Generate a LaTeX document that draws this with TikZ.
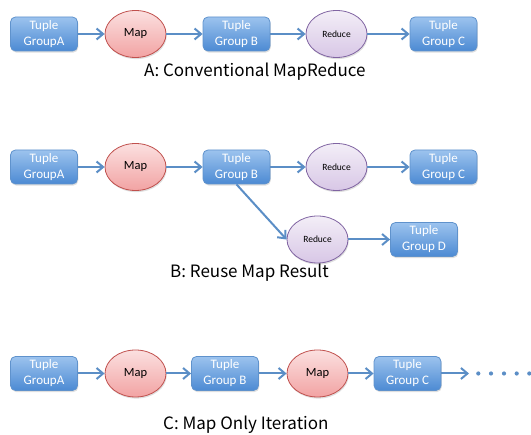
\documentclass[tikz,border=0pt]{standalone}
\usepackage{fontspec}
\setmainfont{Carlito}
\newfontfamily\capfont{Noto Sans CJK JP}
\usetikzlibrary{arrows.meta,shadows,shapes.geometric}
\definecolor{flow}{HTML}{5B8EC6}
\definecolor{boxtop}{HTML}{9CC3EE}
\definecolor{boxbot}{HTML}{4C8AD3}
\definecolor{boxline}{HTML}{5F92CC}
\definecolor{maptop}{HTML}{FBE0E0}
\definecolor{mapbot}{HTML}{F2A3A3}
\definecolor{mapline}{HTML}{C0504D}
\definecolor{redtop}{HTML}{F3EEF7}
\definecolor{redbot}{HTML}{D8C7E6}
\definecolor{redline}{HTML}{8064A2}
\tikzset{
  tuplebox/.style={rectangle, rounded corners=5pt, minimum width=67pt, minimum height=34pt,
    draw=boxline, line width=0.8pt, top color=boxtop, bottom color=boxbot,
    text=white, font=\fontsize{13}{16}\selectfont, align=center, inner sep=0pt,
    drop shadow={shadow xshift=0.8pt, shadow yshift=-1.6pt, opacity=0.25}},
  mapnode/.style={ellipse, minimum width=61pt, minimum height=47pt, inner sep=0pt,
    draw=mapline, line width=0.8pt, top color=maptop, bottom color=mapbot,
    font=\fontsize{12.5}{14}\selectfont,
    drop shadow={shadow xshift=0.8pt, shadow yshift=-1.6pt, opacity=0.25}},
  rednode/.style={ellipse, minimum width=61pt, minimum height=47pt, inner sep=0pt,
    draw=redline, line width=0.8pt, top color=redtop, bottom color=redbot,
    font=\fontsize{9.5}{11}\selectfont,
    drop shadow={shadow xshift=0.8pt, shadow yshift=-1.6pt, opacity=0.25}},
  flowarrow/.style={draw=flow, line width=2pt, -{Straight Barb[length=6.5pt,width=11pt,line width=2pt]}},
  caption/.style={font=\capfont\fontsize{17}{20}\selectfont, text=black,
    anchor=base west, inner sep=0pt},
  dotmark/.style={circle, fill=flow, minimum size=4.2pt, inner sep=0pt}
}
\begin{document}
\begin{tikzpicture}[x=1pt,y=-1pt]
\useasboundingbox (0,0) rectangle (531,435);

% A: conventional MapReduce
\node[tuplebox] (a1) at (44,34) {Tuple\\GroupA};
\node[mapnode] (am) at (135.5,34) {Map};
\node[tuplebox] (a2) at (236.5,34) {Tuple\\Group B};
\node[rednode] (ar) at (336.5,34) {Reduce};
\node[tuplebox] (a3) at (443.5,34) {Tuple\\Group C};
\draw[flowarrow] (a1) -- (am);
\draw[flowarrow] (am) -- (a2);
\draw[flowarrow] (a2) -- (ar);
\draw[flowarrow] (ar) -- (a3);
\node[caption] (acap) at (144,77) {A: Conventional MapReduce};

% B: reuse of the map result
\node[tuplebox] (b1) at (44,167) {Tuple\\GroupA};
\node[mapnode] (bm) at (135.5,167) {Map};
\node[tuplebox] (b2) at (236.5,167) {Tuple\\Group B};
\node[rednode] (br) at (336.5,167) {Reduce};
\node[tuplebox] (b3) at (443.5,167) {Tuple\\Group C};
\node[rednode] (br2) at (317.5,239.5) {Reduce};
\node[tuplebox] (b4) at (424,239.5) {Tuple\\Group D};
\draw[flowarrow] (b1) -- (bm);
\draw[flowarrow] (bm) -- (b2);
\draw[flowarrow] (b2) -- (br);
\draw[flowarrow] (br) -- (b3);
\draw[flowarrow] (b2.south) -- (br2.west);
\draw[flowarrow] (br2) -- (b4);
\node[caption] (bcap) at (170,278) {B: Reuse Map Result};

% C: iterating map only
\node[tuplebox] (c1) at (44,373.5) {Tuple\\GroupA};
\node[mapnode] (cm) at (135.5,373.5) {Map};
\node[tuplebox] (c2) at (225,373.5) {Tuple\\Group B};
\node[mapnode] (cm2) at (317.5,373.5) {Map};
\node[tuplebox] (c3) at (407.5,373.5) {Tuple\\Group C};
\coordinate (cend) at (469,373.5);
\draw[flowarrow] (c1) -- (cm);
\draw[flowarrow] (cm) -- (c2);
\draw[flowarrow] (c2) -- (cm2);
\draw[flowarrow] (cm2) -- (c3);
\draw[flowarrow] (c3) -- (cend);
\foreach \i/\x in {1/478.3,2/491,3/504,4/516.7,5/529.3}
  \node[dotmark] (dot\i) at (\x,373.5) {};
\node[caption] (ccap) at (163,430) {C: Map Only Iteration};
\end{tikzpicture}
\end{document}
